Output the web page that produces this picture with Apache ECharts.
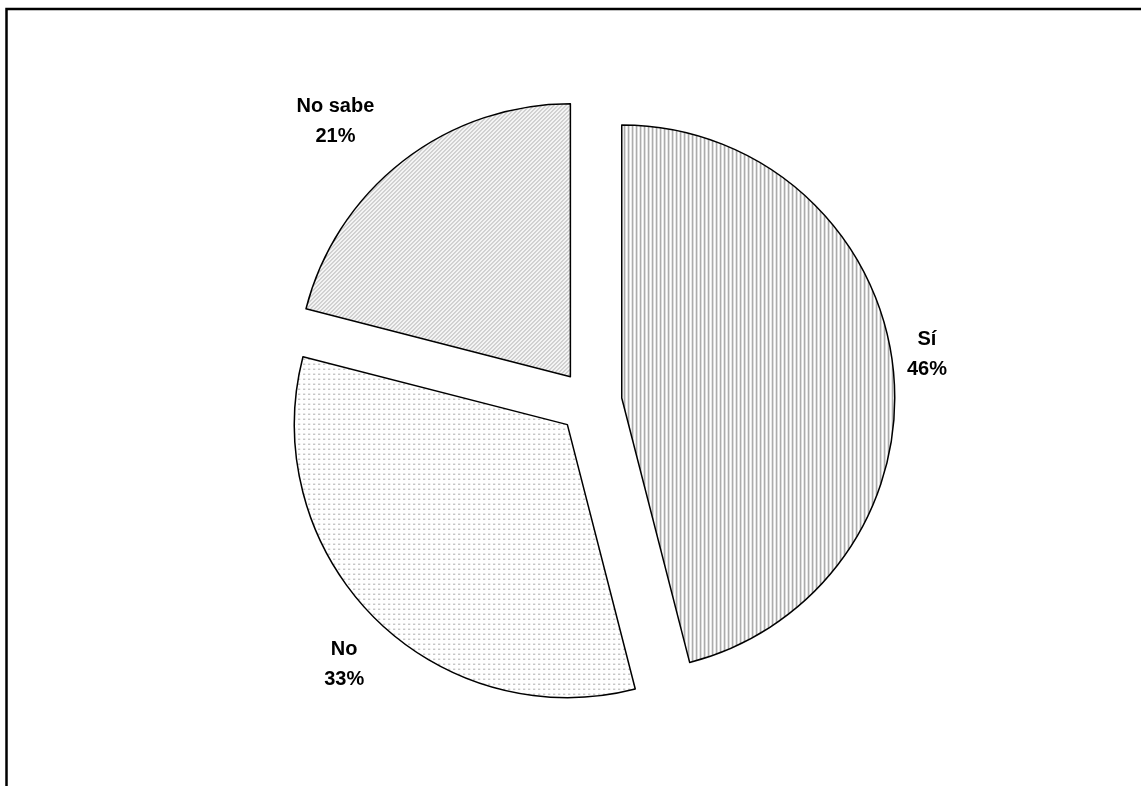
<!DOCTYPE html>
<html>
<head>
<meta charset="utf-8">
<style>
  html, body { margin: 0; padding: 0; background: #fff; }
  #chart { width: 1141px; height: 786px; }
</style>
<script src="https://cdn.jsdelivr.net/npm/echarts@6/dist/echarts.min.js"></script>
</head>
<body>
<div id="chart"></div>
<script>
// Survey answers and their shares (percent)
const categories = ['Sí', 'No', 'No sabe'];
const shares = [46, 33, 21];

// Per-slice label placement: leader length, horizontal run, text padding
const labelPlacement = {
  'Sí':      { length: 78, length2: 0,  padding: [0, 96, 0, 0] },
  'No':      { length: 66, length2: 0,  padding: [0, 0, 0, 43] },
  'No sabe': { length: 50, length2: 32, padding: [0, 0, 0, 0] }
};

// Small tiled fills drawn on a canvas
function tile(size, paint) {
  const c = document.createElement('canvas');
  c.width = size; c.height = size;
  const g = c.getContext('2d');
  g.fillStyle = '#fff';
  g.fillRect(0, 0, size, size);
  paint(g, size);
  return { image: c, repeat: 'repeat' };
}
const px = (g, x, y, col) => { g.fillStyle = col; g.fillRect(x, y, 1, 1); };

const verticalStripes = tile(4, (g, s) => {
  for (let y = 0; y < s; y++) { px(g, 0, y, '#a0a0a0'); px(g, 1, y, '#d2d2d2'); }
});
const dots = tile(5, (g) => {
  px(g, 1, 1, '#808080'); px(g, 2, 1, '#c8c8c8');
});
const diagonal = tile(4, (g, s) => {
  for (let i = 0; i < s; i++) {
    px(g, s - 1 - i, i, '#ababab');
    px(g, (s - i) % s, i, '#e2e2e2');
  }
});
const fills = [verticalStripes, dots, diagonal];

const chart = echarts.init(document.getElementById('chart'), null, { renderer: 'canvas' });
chart.setOption({
  animation: false,
  backgroundColor: '#fff',
  graphic: [{
    type: 'rect',
    shape: { x: 6.5, y: 9, width: 1300, height: 1000 },
    style: { fill: 'none', stroke: '#000', lineWidth: 2.5 },
    silent: true
  }],
  series: [{
    type: 'pie',
    center: [590, 402],
    radius: 273,
    startAngle: 90,
    clockwise: true,
    selectedMode: 'multiple',
    selectedOffset: 32,
    avoidLabelOverlap: false,
    itemStyle: { borderColor: '#000', borderWidth: 1.5 },
    label: {
      show: true,
      position: 'outside',
      formatter: p => p.name + '\n' + p.value + '%',
      fontFamily: 'Liberation Sans, Arial, sans-serif',
      fontWeight: 'bold',
      fontSize: 20,
      lineHeight: 30,
      color: '#000'
    },
    labelLine: { show: false, length: 18, length2: 0 },
    labelLayout: function () {
      return { align: 'center', verticalAlign: 'middle' };
    },
    emphasis: { disabled: true },
    select: { itemStyle: { borderColor: '#000', borderWidth: 1.5 } },
    data: categories.map((name, i) => {
      const lp = labelPlacement[name];
      return {
        name,
        value: shares[i],
        selected: true,
        itemStyle: { color: fills[i] },
        label: { padding: lp.padding },
        labelLine: { show: false, length: lp.length, length2: lp.length2 },
        select: { itemStyle: { color: fills[i], borderColor: '#000', borderWidth: 1.5 } }
      };
    })
  }]
});
</script>
</body>
</html>
